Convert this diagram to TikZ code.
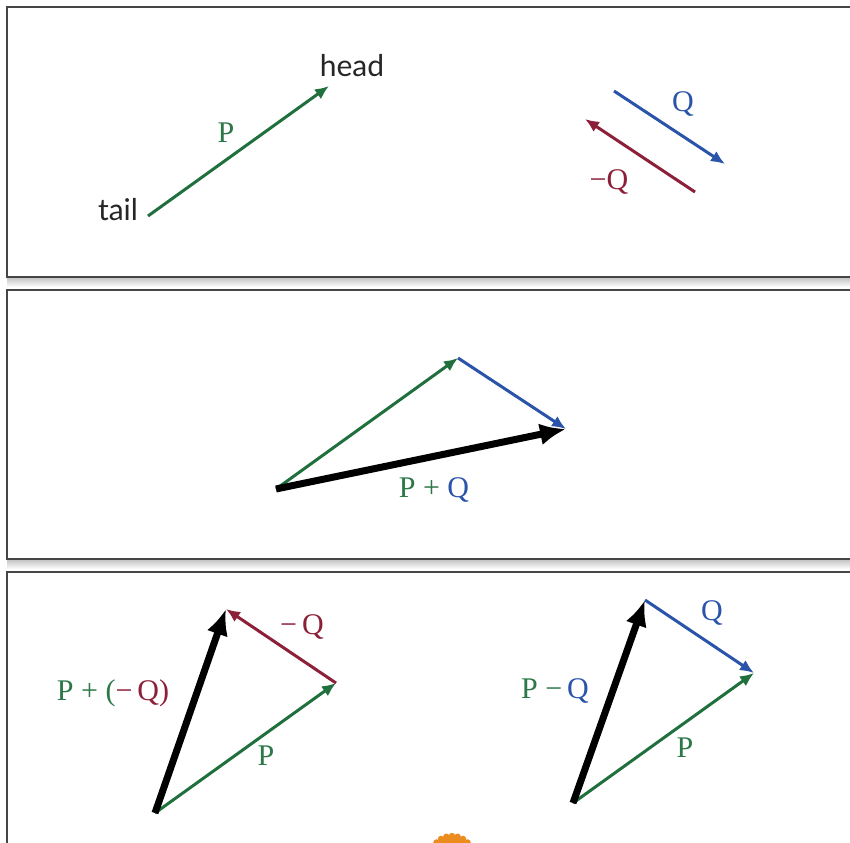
\documentclass[tikz,border=0pt]{standalone}
\usepackage{fontspec}
\newfontfamily\labelsans{Lato}
\newfontfamily\labelserif{Liberation Serif}
\usetikzlibrary{arrows.meta,calc}
\definecolor{vgreen}{RGB}{32,112,62}
\definecolor{vblue}{RGB}{42,84,170}
\definecolor{vred}{RGB}{140,32,56}
\definecolor{vlgreen}{RGB}{44,120,72}
\definecolor{panelline}{RGB}{70,70,70}
\definecolor{sun}{RGB}{236,140,30}
\tikzset{
  panel/.style={draw=panelline, line width=1.6pt, fill=white},
  vec/.style={line width=3pt, -{Latex[length=14pt,width=12pt]}},
  bigvec/.style={line width=7pt, black, -{Latex[length=26pt,width=22pt]}},
  serif/.style={font=\labelserif\fontsize{30}{33}\selectfont, inner sep=1pt},
  sanslbl/.style={font=\labelsans\fontsize{30}{33}\selectfont, inner sep=1pt, text=black!85},
}
\begin{document}
\begin{tikzpicture}[x=1pt,y=-1pt]
\useasboundingbox (0,0) rectangle (850,842);
\fill[white] (0,0) rectangle (850,842);
% panel shadows
\shade[top color=black!25, bottom color=white] (7,277) rectangle (850,287);
\shade[top color=black!25, bottom color=white] (7,559) rectangle (850,569);
% panels
\draw[panel] (7,7) rectangle (870,277);
\draw[panel] (7,290) rectangle (870,559);
\draw[panel] (7,572) rectangle (870,870);
% orange seal at bottom
\begin{scope}
\clip (0,0) rectangle (850,842);
\fill[sun] (452,858) circle (22);
\foreach \a in {0,15,...,345} \fill[sun] ($(452,858)+(\a:22)$) circle (3.2);
\end{scope}

% ---- panel 1 ----
\coordinate (p1t) at (148,216);
\coordinate (p1h) at (329,86);
\draw[vec, vgreen] (p1t) -- (p1h);
\node[sanslbl] (tail) at (118,210) {tail};
\node[sanslbl] (head) at (352,66) {head};
\node[serif, text=vlgreen] (lP1) at (226,133) {P};
\coordinate (q1t) at (614,91);
\coordinate (q1h) at (725,164);
\draw[vec, vblue] (q1t) -- (q1h);
\node[serif, text=vblue] (lQ1) at (683,104) {Q};
\coordinate (m1t) at (695,192);
\coordinate (m1h) at (585,119);
\draw[vec, vred] (m1t) -- (m1h);
\node[serif, text=vred] (lmQ1) at (609,182) {\textminus Q};

% ---- panel 2 ----
\coordinate (a2) at (276,489);
\coordinate (b2) at (458,358);
\coordinate (c2) at (566,429);
\draw[vec, vgreen] (a2) -- (b2);
\draw[vec, vblue] (b2) -- (c2);
\draw[bigvec] (a2) -- (c2);
\node[serif] (lPQ) at (434,490) {\textcolor{vlgreen}{P + }\textcolor{vblue}{Q}};

% ---- panel 3 left ----
\coordinate (a3) at (155,813);
\coordinate (b3) at (336,683);
\coordinate (c3) at (226,609);
\draw[vec, vgreen] (a3) -- (b3);
\draw[vec, vred] (b3) -- (c3);
\draw[bigvec] (a3) -- (c3);
\node[serif] (lPmQ) at (113,693) {\textcolor{vlgreen}{P + (}\textcolor{vred}{\textminus\,Q)}};
\node[serif, text=vred] (lmQ3) at (302,627) {\textminus\,Q};
\node[serif, text=vlgreen] (lP3) at (266,756) {P};

% ---- panel 3 right ----
\coordinate (a4) at (573,803);
\coordinate (b4) at (754,673);
\coordinate (c4) at (645,600);
\draw[vec, vgreen] (a4) -- (b4);
\draw[vec, vblue] (c4) -- (b4);
\draw[bigvec] (a4) -- (c4);
\node[serif] (lPQ4) at (555,691) {\textcolor{vlgreen}{P \textminus\,}\textcolor{vblue}{Q}};
\node[serif, text=vblue] (lQ4) at (712,613) {Q};
\node[serif, text=vlgreen] (lP4) at (685,748) {P};
\end{tikzpicture}
\end{document}
